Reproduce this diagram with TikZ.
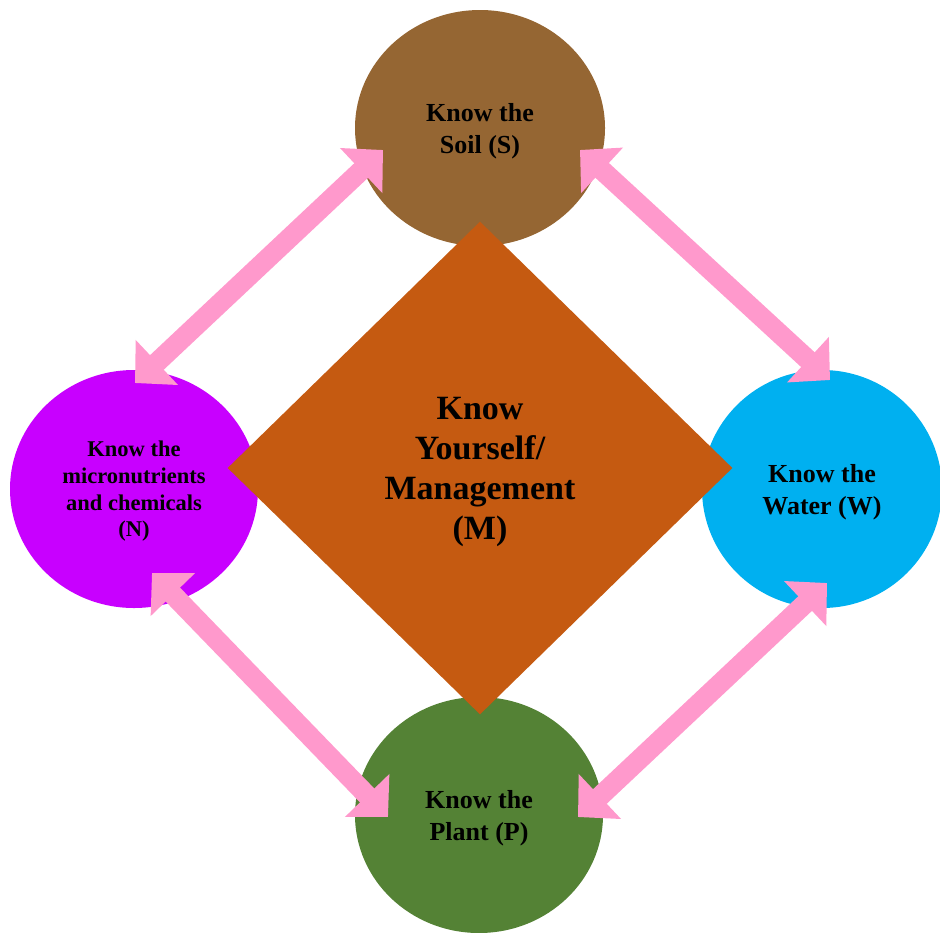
\documentclass[tikz,border=0pt]{standalone}
\usepackage{fontspec}
\setmainfont{Liberation Serif}
\usetikzlibrary{arrows.meta, shapes.geometric}

\definecolor{soilbrown}{HTML}{956633}
\definecolor{nutripurple}{HTML}{C800FF}
\definecolor{waterblue}{HTML}{00B0F0}
\definecolor{plantgreen}{HTML}{548235}
\definecolor{mgmtorange}{HTML}{C55A11}
\definecolor{arrowpink}{HTML}{FF99CC}

\begin{document}
\begin{tikzpicture}[
  x=0.5pt, y=-0.5pt,
  knowbox/.style={ellipse, fill=#1, draw=none, inner sep=0pt, align=center,
                  text=black, text depth=-2.7pt,
                  font=\bfseries\fontsize{13}{16}\selectfont},
  core/.style={diamond, fill=mgmtorange, draw=none, inner sep=0pt,
               minimum width=252.5pt, minimum height=246.5pt, align=center,
               text=black, text depth=-2pt,
               font=\bfseries\fontsize{17}{20}\selectfont},
  dblarr/.style={draw=arrowpink, line width=10pt,
                 {Triangle[length=15pt, width=30pt]}-{Triangle[length=15pt, width=30pt]}},
]
\useasboundingbox (0,0) rectangle (940,932);

% --- The four "know" circles ---
\node[knowbox=soilbrown, minimum width=125pt, minimum height=118pt] (soil) at (480,128)
  {Know the\\Soil (S)};
\node[knowbox=nutripurple, minimum width=124pt, minimum height=119pt, text depth=-3pt,
      font=\bfseries\fontsize{11.25}{13.3}\selectfont] (nutri) at (134,489)
  {Know the\\micronutrients\\and chemicals\\(N)};
\node[knowbox=waterblue, minimum width=120pt, minimum height=119pt] (water) at (822,489)
  {Know the\\Water (W)};
\node[knowbox=plantgreen, minimum width=124pt, minimum height=118pt] (plant) at (479,815)
  {Know the\\Plant (P)};

% --- Central management diamond ---
\node[core] (mgmt) at (480,468) {Know\\Yourself/\\Management\\(M)};

% --- Two-way links round the ring ---
\draw[dblarr] ([shift={(-97,22)}]soil.center) -- ([shift={(1,-106)}]nutri.center);
\draw[dblarr] ([shift={(100,22)}]soil.center) -- ([shift={(8,-109)}]water.center);
\draw[dblarr] ([shift={(18,84)}]nutri.center) -- ([shift={(-91,2)}]plant.center);
\draw[dblarr] ([shift={(5,94)}]water.center) -- ([shift={(99,2)}]plant.center);

\end{tikzpicture}
\end{document}
